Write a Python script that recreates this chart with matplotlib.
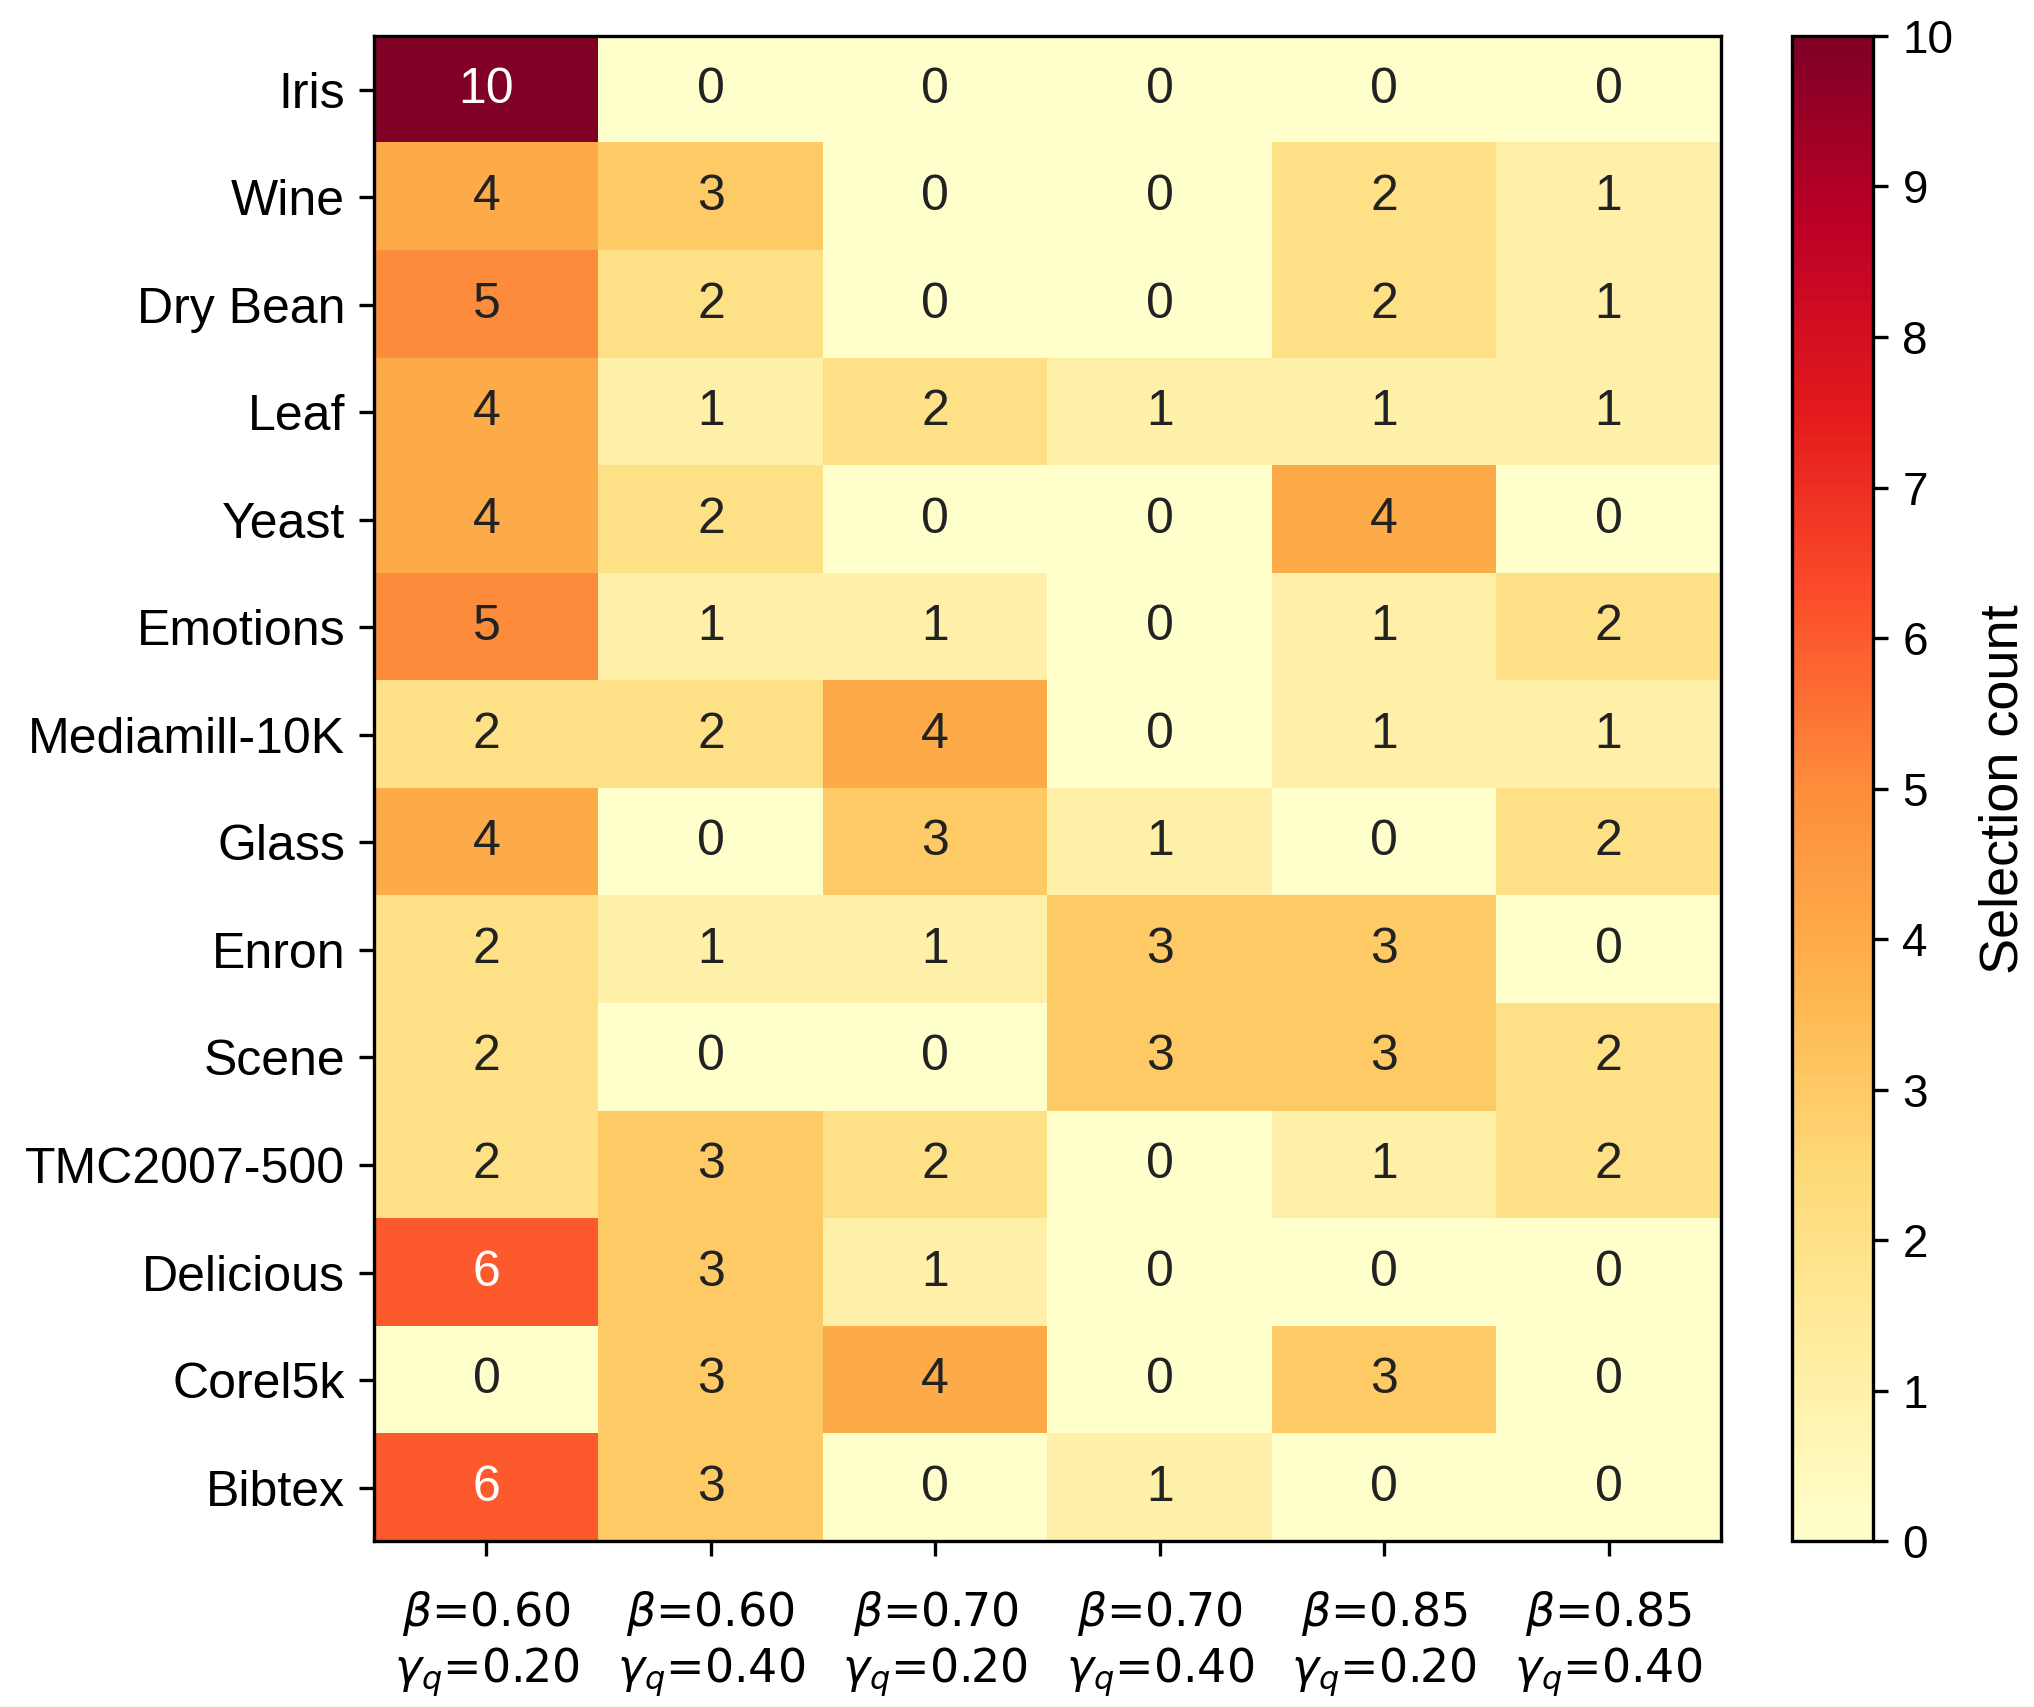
import matplotlib
matplotlib.use("Agg")
import matplotlib.pyplot as plt
import numpy as np

plt.rcParams['font.family'] = ['Liberation Sans', 'DejaVu Sans']

datasets = ["Iris", "Wine", "Dry Bean", "Leaf", "Yeast", "Emotions", "Mediamill-10K",
            "Glass", "Enron", "Scene", "TMC2007-500", "Delicious", "Corel5k", "Bibtex"]
col_labels = [r"$\beta$=0.60" + "\n" + r"$\gamma_q$=0.20",
              r"$\beta$=0.60" + "\n" + r"$\gamma_q$=0.40",
              r"$\beta$=0.70" + "\n" + r"$\gamma_q$=0.20",
              r"$\beta$=0.70" + "\n" + r"$\gamma_q$=0.40",
              r"$\beta$=0.85" + "\n" + r"$\gamma_q$=0.20",
              r"$\beta$=0.85" + "\n" + r"$\gamma_q$=0.40"]
counts = np.array([
    [10, 0, 0, 0, 0, 0],
    [4, 3, 0, 0, 2, 1],
    [5, 2, 0, 0, 2, 1],
    [4, 1, 2, 1, 1, 1],
    [4, 2, 0, 0, 4, 0],
    [5, 1, 1, 0, 1, 2],
    [2, 2, 4, 0, 1, 1],
    [4, 0, 3, 1, 0, 2],
    [2, 1, 1, 3, 3, 0],
    [2, 0, 0, 3, 3, 2],
    [2, 3, 2, 0, 1, 2],
    [6, 3, 1, 0, 0, 0],
    [0, 3, 4, 0, 3, 0],
    [6, 3, 0, 1, 0, 0],
])

fig = plt.figure(figsize=(6.78, 5.69), dpi=300)
ax = fig.add_axes([0.184, 0.097, 0.662, 0.882])
cax = fig.add_axes([0.881, 0.097, 0.04, 0.882])
im = ax.imshow(counts, cmap="YlOrRd", vmin=0, vmax=10, aspect="auto")

for i in range(counts.shape[0]):
    for j in range(counts.shape[1]):
        v = counts[i, j]
        ax.text(j, i, str(v), ha="center", va="center", fontsize=12,
                color="white" if v > 5 else "#222222")

ax.set_xticks(np.arange(len(col_labels)))
ax.set_xticklabels(col_labels, fontsize=11, family='DejaVu Sans')
ax.set_yticks(np.arange(len(datasets)))
ax.set_yticklabels(datasets, fontsize=12)
ax.tick_params(axis="x", pad=8)

cb = fig.colorbar(im, cax=cax)
cb.set_ticks(range(0, 11))
cb.ax.tick_params(labelsize=11)
cb.set_label("Selection count", fontsize=13, labelpad=6)

fig.savefig("out.png", dpi=300)
